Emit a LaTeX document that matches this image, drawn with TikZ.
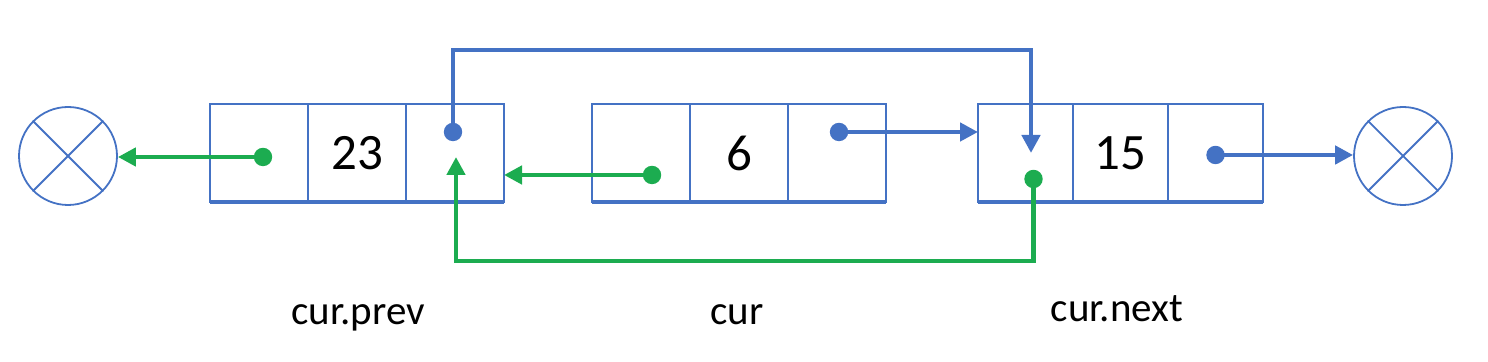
\documentclass[tikz,border=0pt]{standalone}
\usepackage{fontspec}
\setmainfont{Carlito}
\usetikzlibrary{arrows.meta, positioning}
\definecolor{ptrblue}{HTML}{4472C4}
\definecolor{ptrgreen}{RGB}{28,172,80}

\begin{document}
\begin{tikzpicture}[
  x=1pt, y=1pt,
  node distance=0pt,
  cell/.style={rectangle, draw=ptrblue, line width=0.9pt, inner sep=0pt, outer sep=0pt, minimum width=49pt, minimum height=49pt, font=\fontsize{25.5}{30}\selectfont},
  nil/.style={circle, draw=ptrblue, line width=0.9pt, inner sep=0pt, minimum size=49pt},
  tag/.style={anchor=base, font=\fontsize{20.5}{24}\selectfont},
  nextptr/.style={-{Triangle[length=9pt, width=9pt]}, ptrblue, line width=2.4pt},
  prevptr/.style={-{Triangle[length=9pt, width=9pt]}, ptrgreen, line width=2.4pt}
]
\useasboundingbox (0,0) rectangle (744,181);

% the three list nodes
\node[cell] (p1) at (129.5,104.5) {};
\node[cell, right=of p1] (p2) {23};
\node[cell, right=of p2] (p3) {};
\node[cell] (c1) at (320.5,104.5) {};
\node[cell, right=of c1] (c2) {6};
\node[cell, right=of c2] (c3) {};
\node[cell, minimum width=47.5pt] (n1) at (512.75,104.5) {};
\node[cell, minimum width=47.5pt, right=of n1] (n2) {15};
\node[cell, minimum width=47.5pt, right=of n2] (n3) {};
\draw[ptrblue, line width=1.7pt] (p1.south west) -- (p3.south east);
\draw[ptrblue, line width=1.7pt] (c1.south west) -- (c3.south east);
\draw[ptrblue, line width=1.7pt] (n1.south west) -- (n3.south east);

% null ends
\node[nil] (nilL) at (34,103) {};
\node[nil] (nilR) at (701.5,103) {};
\draw[ptrblue, line width=0.9pt] (nilL.north west) -- (nilL.south east) (nilL.north east) -- (nilL.south west);
\draw[ptrblue, line width=0.9pt] (nilR.north west) -- (nilR.south east) (nilR.north east) -- (nilR.south west);

% pointer origins and targets
\coordinate (g1) at ([shift={(2,-2)}]p1.center);
\coordinate (b1) at ([shift={(-1,10.5)}]p3.center);
\coordinate (g2) at ([shift={(5.5,-11)}]c1.center);
\coordinate (b2) at ([shift={(1,10.5)}]c3.center);
\coordinate (g3) at ([shift={(4,-13)}]n1.center);
\coordinate (b3) at ([shift={(0,-1)}]n3.center);
\coordinate (bin) at ([shift={(2.75,0)}]n1.center);
\coordinate (gin) at ([shift={(0.5,-2)}]p3.center);

\draw[prevptr] (g1) -- (g1 -| nilL.east);
\draw[nextptr] (b1) -- ++(0,41) -| (bin);
\draw[prevptr] (g2) -- (g2 -| p3.east);
\draw[nextptr] (b2) -- (b2 -| n1.west);
\draw[prevptr] (g3) -- ++(0,-41) -| (gin);
\draw[nextptr] (b3) -- (b3 -| nilR.west);

\fill[ptrgreen] (g1) circle[radius=4.6pt] (g2) circle[radius=4.6pt] (g3) circle[radius=4.6pt];
\fill[ptrblue] (b1) circle[radius=4.6pt] (b2) circle[radius=4.6pt] (b3) circle[radius=4.6pt];

% captions
\node[tag] (lprev) at (179,18.5) {cur.prev};
\node[tag] (lcur) at (368.5,18.5) {cur};
\node[tag] (lnext) at (558.5,20) {cur.next};
\end{tikzpicture}
\end{document}
